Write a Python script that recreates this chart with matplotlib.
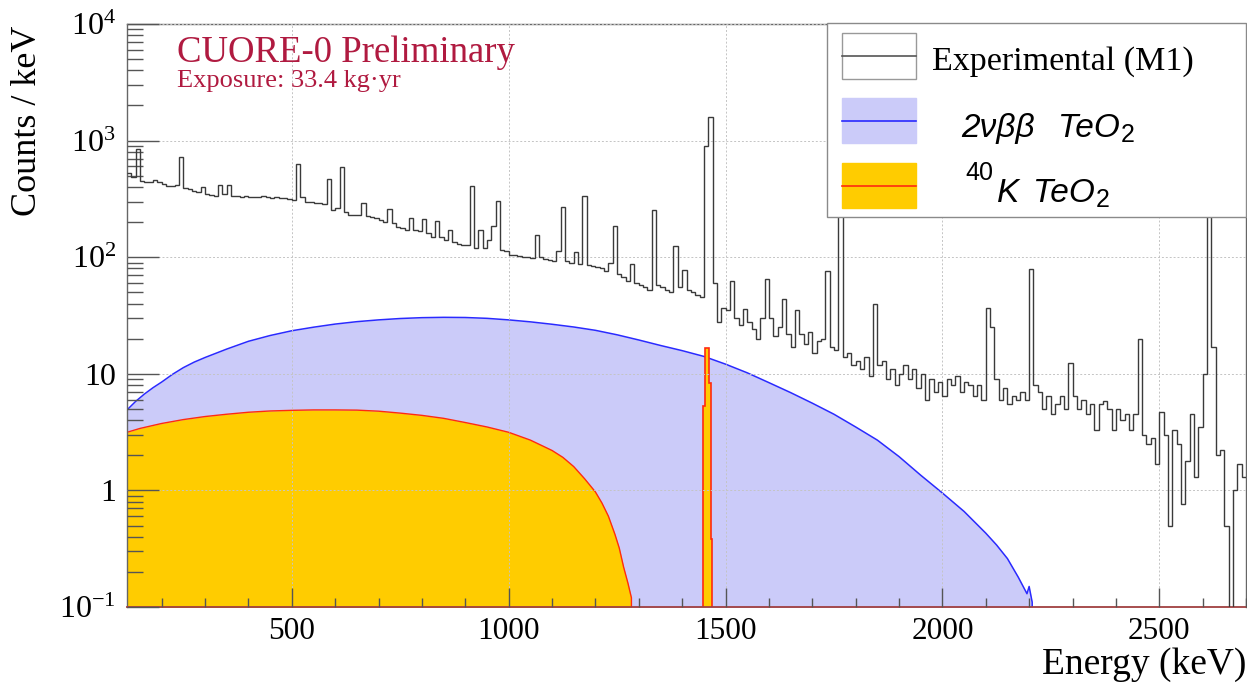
import numpy as np
import matplotlib
matplotlib.use("Agg")
import matplotlib.pyplot as plt
from matplotlib.patches import Rectangle
from matplotlib.lines import Line2D
from matplotlib.ticker import FixedLocator, FixedFormatter, MultipleLocator, LogLocator, NullFormatter

plt.rcParams['font.family'] = ['Liberation Serif', 'DejaVu Serif']
plt.rcParams['mathtext.fontset'] = 'custom'
plt.rcParams['mathtext.rm'] = 'Liberation Serif'
plt.rcParams['mathtext.it'] = 'Liberation Serif:italic'
plt.rcParams['mathtext.bf'] = 'Liberation Serif:bold'

# --- data ---
# experimental M1 spectrum, 10 keV bins starting at 120 keV (counts / keV)
exp_start = 120
exp_width = 10
exp_counts = [
    530, 490, 850, 450, 445, 440, 455, 440, 425, 410,      # 120-220
    405, 420, 730, 390, 385, 370, 365, 400, 350, 340,      # 220-320
    338, 420, 345, 420, 335, 332, 330, 335, 330, 328,      # 320-420
    330, 335, 328, 325, 330, 325, 322, 318, 312, 630,      # 420-520
    330, 300, 295, 290, 292, 288, 470, 255, 262, 590,      # 520-620
    245, 232, 230, 228, 290, 225, 222, 215, 210, 200,      # 620-720
    260, 195, 182, 178, 172, 218, 170, 168, 212, 160,      # 720-820
    148, 206, 150, 140, 170, 135, 130, 128, 126, 411,      # 820-920
    120, 170, 120, 140, 185, 306, 115, 112, 105, 104,      # 920-1020
    102, 100, 101, 98, 155, 100, 96, 95, 93, 112,          # 1020-1120
    272, 92, 90, 110, 88, 338, 86, 84, 82, 80,             # 1120-1220
    76, 90, 187, 72, 68, 63, 88, 60, 58, 55,               # 1220-1320
    52, 254, 58, 55, 52, 50, 124, 55, 77, 52,              # 1320-1420
    50, 47, 46, 900, 1600, 60, 28, 37, 35, 63,             # 1420-1520
    30, 26, 36, 28, 24, 20, 30, 65, 30, 21,                # 1520-1620
    25, 44, 22, 17, 35, 22, 18, 23, 15, 19,                # 1620-1720
    20, 76, 17, 16, 300, 14, 15, 12, 13, 11,               # 1720-1820
    14, 9.5, 40, 12, 13, 9, 11, 8, 10, 12,                 # 1820-1920
    9, 11, 7.5, 10, 6, 9, 7, 8.5, 6.5, 9,                  # 1920-2020
    8, 9.5, 7, 8.5, 8, 6.5, 8, 6, 37, 25,                  # 2020-2120
    9, 6, 7.5, 5.5, 6.5, 6, 7, 6, 79, 8,                   # 2120-2220
    7, 5, 6.5, 4.5, 5.5, 6.5, 5, 12.4, 6.5, 5,             # 2220-2320
    6, 4.5, 5.5, 3.3, 5.5, 5.8, 5, 3.3, 5, 4,              # 2320-2420
    4.5, 3.3, 4.5, 20, 3, 2.5, 2.8, 1.7, 4.7, 3,           # 2420-2520
    0.5, 3.3, 2.5, 0.77, 1.8, 4.5, 1.3, 3.5, 10, 400,      # 2520-2620
    17, 2, 2.2, 0.5, 0, 1, 1.7, 1.3,                       # 2620-2700
]

# 2vbb TeO2 Monte Carlo
bb_energy = [120, 140, 160, 180, 200, 225, 250, 275, 300, 350, 400, 450, 500, 550,
             600, 650, 700, 750, 800, 850, 900, 950, 1000, 1050, 1100, 1150, 1200,
             1250, 1300, 1350, 1400, 1450, 1500, 1550, 1600, 1650, 1700, 1750, 1800,
             1850, 1900, 1950, 2000, 2050, 2100, 2125, 2150, 2175, 2195, 2200, 2207, 2208]
bb_counts = [4.9, 5.8, 6.7, 7.6, 8.5, 9.9, 11.3, 12.6, 13.8, 16.3, 19.0, 21.3, 23.4, 25.1,
             26.7, 28.0, 29.0, 29.8, 30.3, 30.5, 30.4, 29.9, 29.0, 27.9, 26.6, 25.2, 23.6,
             21.6, 19.5, 17.5, 15.8, 14.1, 12.1, 10.2, 8.4, 6.9, 5.6, 4.5, 3.5,
             2.7, 1.95, 1.35, 0.95, 0.66, 0.43, 0.34, 0.26, 0.18, 0.13, 0.15, 0.11, 0]

# 40K TeO2 Monte Carlo: continuum and 1461 keV line
k40_energy = [120, 150, 200, 250, 300, 350, 400, 450, 500, 550, 600, 650, 700, 750,
              800, 850, 900, 950, 1000, 1050, 1100, 1125, 1150, 1175, 1200, 1215, 1230,
              1245, 1255, 1265, 1275, 1283, 1284]
k40_counts = [3.15, 3.4, 3.75, 4.05, 4.3, 4.5, 4.68, 4.8, 4.86, 4.9, 4.9, 4.88, 4.78, 4.6,
              4.4, 4.15, 3.82, 3.5, 3.15, 2.7, 2.2, 1.92, 1.6, 1.26, 0.97, 0.78, 0.6,
              0.42, 0.32, 0.22, 0.16, 0.12, 0]
k40_peak_edges = [1448, 1453, 1461, 1466, 1469]
k40_peak_counts = [5.3, 16.6, 8.4, 0.38]

y_ticks = [0.1, 1, 10, 100, 1000, 10000]
y_labels = ['10$^{-1}$', '1', '10', '10$^{2}$', '10$^{3}$', '10$^{4}$']
x_ticks = [500, 1000, 1500, 2000, 2500]

W, H = 1247, 687
fig = plt.figure(figsize=(W / 100, H / 100), dpi=100)
ax = fig.add_axes([127 / W, 1 - 607 / H, (1246 - 127) / W, (607 - 24) / H])

blue_fill, blue_line = '#cbcbf9', '#2a2aff'
yel_fill, red_line = '#ffcc00', '#ff2a10'
floor = 1e-3

bb_y = np.maximum(bb_counts, floor)
ax.fill_between(bb_energy, bb_y, floor, color=blue_fill, lw=0, zorder=1)
ax.plot(bb_energy, bb_y, color=blue_line, lw=1.1, zorder=1.2)

k_y = np.maximum(k40_counts, floor)
ax.fill_between(k40_energy, k_y, floor, color=yel_fill, lw=0, zorder=1.4)
ax.plot(k40_energy, k_y, color=red_line, lw=1.0, zorder=1.5)
ax.stairs(k40_peak_counts, k40_peak_edges, baseline=floor, fill=True, color=yel_fill, zorder=1.4)
ax.stairs(k40_peak_counts, k40_peak_edges, baseline=floor, color=red_line, lw=1.2, zorder=1.5)

edges = exp_start + exp_width * np.arange(len(exp_counts) + 1)
ax.stairs(np.maximum(exp_counts, floor), edges, baseline=None, color='#3a3a3a', lw=1.0, zorder=3)

ax.set_yscale('log')
ax.set_ylim(0.1, 1e4)
ax.set_xlim(120, 2700)

ax.xaxis.set_major_locator(FixedLocator(x_ticks))
ax.xaxis.set_minor_locator(MultipleLocator(100))
ax.yaxis.set_major_locator(FixedLocator(y_ticks))
ax.yaxis.set_major_formatter(FixedFormatter(y_labels))
ax.yaxis.set_minor_locator(LogLocator(base=10, subs=np.arange(2, 10)))
ax.yaxis.set_minor_formatter(NullFormatter())

ax.tick_params(which='both', direction='in', top=False, right=False, color='#555555', width=1)
ax.tick_params(axis='y', which='major', length=23, pad=8, labelsize=23)
ax.tick_params(axis='y', which='minor', length=11.5)
ax.tick_params(axis='x', which='major', length=13.5, pad=7, labelsize=22.5)
ax.tick_params(axis='x', which='minor', length=6.7)

ax.set_axisbelow(False)
ax.grid(True, which='major', color='#c4c4c4', ls=(0, (2, 2)), lw=0.7)
for s in ax.spines.values():
    s.set_color('#666666')
    s.set_linewidth(1.0)
ax.spines['bottom'].set_color('#a04040')
ax.spines['bottom'].set_linewidth(1.3)


def fx(px):
    return px / W


def fy(py):
    return 1 - py / H


crimson = '#b01a40'
fig.text(fx(176.7), fy(61.7), 'CUORE-0 Preliminary', fontsize=26.5, color=crimson, va='baseline')
fig.text(fx(176.7), fy(87.3), 'Exposure: 33.4 kg\u00b7yr', fontsize=19, color=crimson, va='baseline')
fig.text(fx(28), fy(26), 'Counts / keV', rotation=90, ha='center', va='top', fontsize=26)
fig.text(fx(1246), fy(674), 'Energy (keV)', ha='right', va='baseline', fontsize=27)

# legend box drawn by hand, ROOT style
fig.add_artist(Rectangle((fx(826.7), fy(216.7)), (1246 - 826.7) / W, (216.7 - 23.3) / H,
                         transform=fig.transFigure, facecolor='white', edgecolor='#8a8a8a',
                         lw=1.0, zorder=10))
entries = [
    (32.7, 79.3, 'white', '#555555', '#999999'),
    (98.3, 143.3, blue_fill, blue_line, blue_fill),
    (163.3, 207.7, yel_fill, red_line, yel_fill),
]
for top, bot, fc, lc, ec in entries:
    fig.add_artist(Rectangle((fx(842), fy(bot)), (915.7 - 842) / W, (bot - top) / H,
                             transform=fig.transFigure, facecolor=fc, edgecolor=ec,
                             lw=1.0, zorder=11))
    mid = (top + bot) / 2
    fig.add_artist(Line2D([fx(842), fx(915.7)], [fy(mid), fy(mid)], transform=fig.transFigure,
                          color=lc, lw=1.2, zorder=12))

fig.text(fx(931.7), fy(70), 'Experimental (M1)', fontsize=24.5, va='baseline', zorder=12)

renderer = fig.canvas.get_renderer()
sans = ['Liberation Sans', 'DejaVu Sans']


def chain(x, y, parts):
    for text, size, dy, style, x0 in parts:
        if x0 is not None:
            x = x0
        t = fig.text(fx(x), fy(y + dy), text, fontsize=size, fontstyle=style,
                     family=sans, va='baseline', zorder=12)
        x = t.get_window_extent(renderer).x1 + 1


chain(961.7, 136.7, [('2\u03bd\u03b2\u03b2', 24, 0, 'italic', None),
                     ('TeO', 24, 0, 'italic', 1058),
                     ('2', 18, 5, 'normal', None)])
chain(965, 201.7, [('40', 18, -22, 'normal', None),
                   ('K', 24, 0, 'italic', 996.7),
                   ('TeO', 24, 0, 'italic', 1033.3),
                   ('2', 18, 5, 'normal', None)])

fig.savefig('out.png', dpi=100)
